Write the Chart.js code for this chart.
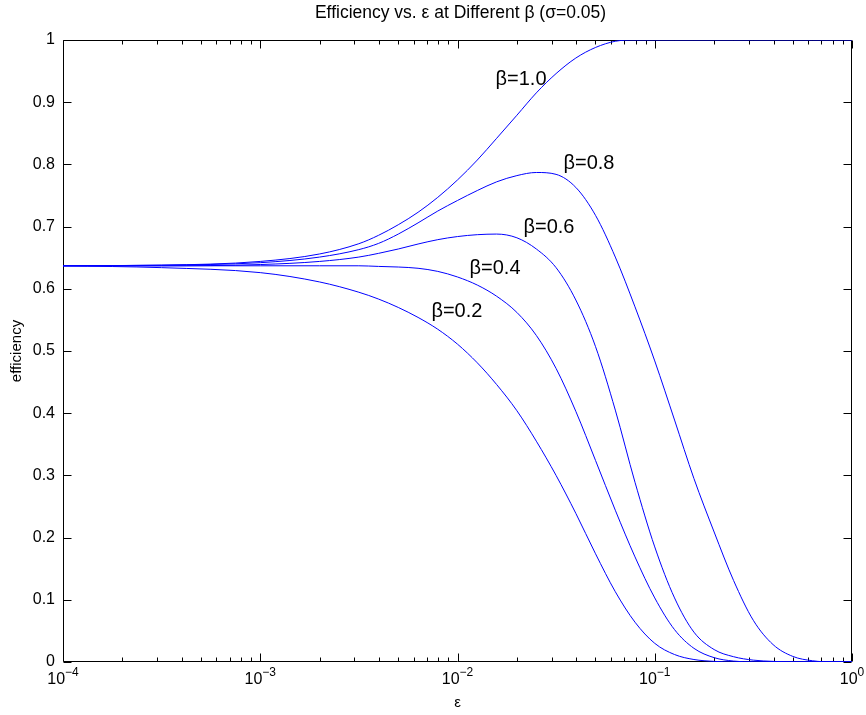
<!DOCTYPE html>
<html>
<head>
<meta charset="utf-8">
<script src="https://cdn.jsdelivr.net/npm/chart.js@4/dist/chart.umd.min.js"></script>
<style>
  html, body { margin: 0; padding: 0; background: #fff; }
  #wrap { width: 866px; height: 715px; position: relative; }
</style>
</head>
<body>
<div id="wrap"><canvas id="c" width="866" height="715"></canvas></div>
<script>
// ---- data ----
const epsilon = [1e-4, 3.16e-4, 1e-3, 2e-3, 3.16e-3, 3.98e-3, 5.01e-3, 6.31e-3, 7.94e-3, 1e-2,
                 1.26e-2, 1.58e-2, 2e-2, 2.51e-2, 3.16e-2, 3.98e-2, 5.01e-2, 6.31e-2, 7.94e-2, 0.1,
                 0.126, 0.158, 0.2, 0.251, 0.316, 0.398, 0.501, 0.631, 0.794, 1.0];

const beta10 = [0.637, 0.638, 0.644, 0.656, 0.6725, 0.686, 0.703, 0.723, 0.747, 0.775,
                0.807, 0.842, 0.879, 0.915, 0.946, 0.971, 0.988, 0.998, 1, 1,
                1, 1, 1, 1, 1, 1, 1, 1, 1, 1];
const beta08 = [0.637, 0.638, 0.642, 0.651, 0.663, 0.673, 0.688, 0.706, 0.725, 0.742,
                0.758, 0.772, 0.782, 0.787, 0.784, 0.763, 0.718, 0.651, 0.571, 0.484,
                0.389, 0.295, 0.209, 0.131, 0.067, 0.028, 0.009, 0.002, 0, 0];
const beta06 = [0.637, 0.637, 0.639, 0.644, 0.651, 0.657, 0.664, 0.672, 0.679, 0.684,
                0.687, 0.688, 0.682, 0.664, 0.634, 0.582, 0.507, 0.405, 0.289, 0.185,
                0.103, 0.048, 0.020, 0.0085, 0.003, 0.001, 0, 0, 0, 0];
const beta04 = [0.637, 0.637, 0.637, 0.637, 0.637, 0.636, 0.635, 0.633, 0.628, 0.619,
                0.606, 0.588, 0.562, 0.525, 0.472, 0.403, 0.324, 0.244, 0.169, 0.103,
                0.052, 0.022, 0.007, 0.0015, 0, 0, 0, 0, 0, 0];
const beta02 = [0.637, 0.634, 0.626, 0.611, 0.5945, 0.5835, 0.570, 0.554, 0.535, 0.511,
                0.481, 0.446, 0.404, 0.355, 0.300, 0.239, 0.174, 0.113, 0.064, 0.030,
                0.012, 0.004, 0.001, 0, 0, 0, 0, 0, 0, 0];

const seriesNames = ['β=1.0', 'β=0.8', 'β=0.6', 'β=0.4', 'β=0.2'];
const seriesValues = [beta10, beta08, beta06, beta04, beta02];
// annotation anchors (epsilon, efficiency) for the in-plot labels
const labelEps = [0.0210, 0.0464, 0.0291, 0.0155, 0.00993];
const labelEff = [0.936, 0.801, 0.698, 0.633, 0.564];

const xTickExponents = [-4, -3, -2, -1, 0];
const yTicks = [0, 0.1, 0.2, 0.3, 0.4, 0.5, 0.6, 0.7, 0.8, 0.9, 1];

const titleText = 'Efficiency vs. ε at Different β (σ=0.05)';
const xTitle = 'ε';
const yTitle = 'efficiency';

// ---- chart ----
const FONT = '"Liberation Sans", Arial, Helvetica, sans-serif';

const datasets = seriesValues.map((vals, i) => ({
  label: seriesNames[i],
  data: epsilon.map((e, j) => ({ x: e, y: vals[j] })),
  borderColor: '#0000ff',
  borderWidth: 1,
  pointRadius: 0,
  fill: false,
  cubicInterpolationMode: 'monotone'
}));

const framePlugin = {
  id: 'matlabFrame',
  beforeDatasetsDraw(chart) {
    const ctx = chart.ctx;
    const a = chart.chartArea;
    const xs = chart.scales.x, ys = chart.scales.y;
    const L = Math.round(a.left) + 0.5, R = Math.round(a.right) - 0.5;
    const T = Math.round(a.top) + 0.5, B = Math.round(a.bottom) - 0.5;
    ctx.save();
    ctx.strokeStyle = '#000';
    ctx.lineWidth = 1;
    ctx.beginPath();
    ctx.rect(L, T, R - L, B - T);
    ctx.stroke();
    ctx.beginPath();
    yTicks.forEach(v => {
      const py = Math.round(ys.getPixelForValue(v)) + 0.5;
      ctx.moveTo(L, py); ctx.lineTo(L + 8, py);
      ctx.moveTo(R, py); ctx.lineTo(R - 8, py);
    });
    for (let k = -4; k <= 0; k++) {
      for (let m = 1; m <= 9; m++) {
        const v = m * Math.pow(10, k);
        if (v > 1.0000001) break;
        const px = Math.round(xs.getPixelForValue(v)) + 0.5;
        const len = (m === 1) ? 8 : 4;
        ctx.moveTo(px, B); ctx.lineTo(px, B - len);
        ctx.moveTo(px, T); ctx.lineTo(px, T + len);
      }
    }
    ctx.stroke();
    ctx.restore();
  },
  afterDraw(chart) {
    const ctx = chart.ctx;
    const a = chart.chartArea;
    const xs = chart.scales.x, ys = chart.scales.y;
    ctx.save();
    ctx.fillStyle = '#000';
    // title
    ctx.font = '17.5px ' + FONT;
    ctx.textAlign = 'center';
    ctx.textBaseline = 'middle';
    ctx.fillText(titleText, (a.left + a.right) / 2 + 3, 13);
    // x tick labels with superscript exponents
    xTickExponents.forEach(ex => {
      const px = xs.getPixelForValue(Math.pow(10, ex));
      const base = '10';
      const sup = (ex < 0 ? '\u2212' : '') + Math.abs(ex);
      ctx.font = '16px ' + FONT;
      const wb = ctx.measureText(base).width;
      ctx.font = '12px ' + FONT;
      const ws = ctx.measureText(sup).width;
      const x0 = px - (wb + ws) / 2;
      ctx.textAlign = 'left';
      ctx.font = '16px ' + FONT;
      ctx.fillText(base, x0, 680);
      ctx.font = '12px ' + FONT;
      ctx.fillText(sup, x0 + wb, 673);
    });
    // axis titles
    ctx.textAlign = 'center';
    ctx.font = '15px ' + FONT;
    ctx.fillText(xTitle, (a.left + a.right) / 2, 703);
    ctx.save();
    ctx.translate(17, (a.top + a.bottom) / 2);
    ctx.rotate(-Math.PI / 2);
    ctx.font = '15px ' + FONT;
    ctx.fillText(yTitle, 0, 0);
    ctx.restore();
    // series labels
    ctx.font = '20px ' + FONT;
    seriesNames.forEach((n, i) => {
      ctx.fillText(n, xs.getPixelForValue(labelEps[i]), ys.getPixelForValue(labelEff[i]));
    });
    ctx.restore();
  }
};

new Chart(document.getElementById('c'), {
  type: 'line',
  data: { datasets },
  options: {
    responsive: false,
    animation: false,
    devicePixelRatio: 1,
    layout: { padding: { top: 40, right: 14, left: 0, bottom: 0 } },
    plugins: { legend: { display: false }, tooltip: { enabled: false }, title: { display: false } },
    scales: {
      x: {
        type: 'logarithmic',
        min: 1e-4,
        max: 1,
        grid: { display: false, drawTicks: false },
        border: { display: false },
        ticks: { display: false },
        afterFit(scale) { scale.height = 53; }
      },
      y: {
        type: 'linear',
        min: 0,
        max: 1,
        grid: { display: false, drawTicks: false },
        border: { display: false },
        ticks: {
          stepSize: 0.1,
          padding: 8,
          color: '#000',
          font: { family: FONT, size: 16 },
          callback: v => String(Number(Number(v).toFixed(1)))
        },
        afterFit(scale) { scale.width = 63; }
      }
    }
  },
  plugins: [framePlugin]
});
</script>
</body>
</html>
